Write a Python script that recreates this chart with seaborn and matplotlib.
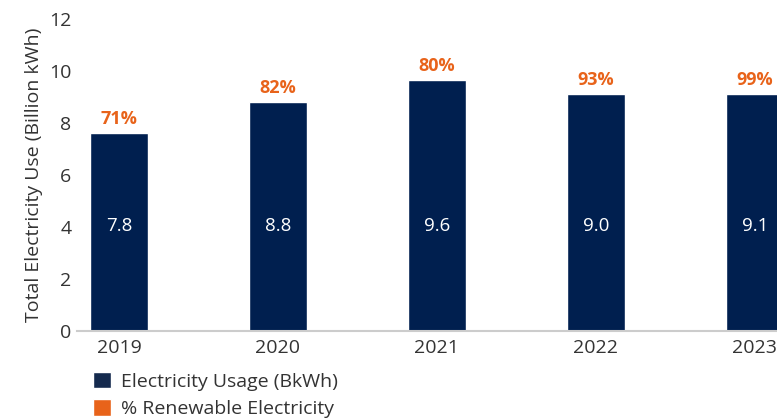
import matplotlib.pyplot as plt
import seaborn as sns
import pandas as pd
from matplotlib.patches import Patch

## data
years = ['2019', '2020', '2021', '2022', '2023']
usage = [7.6, 8.8, 9.65, 9.1, 9.1]
usage_labels = ['7.8', '8.8', '9.6', '9.0', '9.1']
renewable = ['71%', '82%', '80%', '93%', '99%']

navy = '#001f4f'
orange = '#e8631a'
grey_txt = '#333333'

df = pd.DataFrame({'year': years, 'usage': usage})

sns.set_style('white')
plt.rcParams['font.family'] = ['Open Sans', 'DejaVu Sans']

fig = plt.figure(figsize=(7.77, 4.19), dpi=100)
ax = fig.add_axes([0.099, 0.21, 0.901, 0.745])

sns.barplot(data=df, x='year', y='usage', color=navy, saturation=1, width=0.365, ax=ax)

## labels inside and above the bars
for i, bar in enumerate(ax.patches):
    x = bar.get_x() + bar.get_width() / 2
    h = bar.get_height()
    ax.text(x, 4.05, usage_labels[i], ha='center', va='center', color='white', fontsize=13.5, clip_on=False)
    ax.text(x, h + 0.2, renewable[i], ha='center', va='bottom', color=orange, fontsize=13,
            fontweight='bold', clip_on=False)

ax.set_xlim(-0.264, 4.14)
ax.set_ylim(0, 12)
ax.set_yticks(range(0, 13, 2))
ax.tick_params(axis='both', length=0, labelsize=14, labelcolor=grey_txt)
ax.tick_params(axis='x', pad=6)
ax.tick_params(axis='y', pad=4)
ax.set_xlabel('')
ax.set_ylabel('Total Electricity Use (Billion kWh)', fontsize=14, color=grey_txt, labelpad=4)

for s in ['top', 'right', 'left']:
    ax.spines[s].set_visible(False)
ax.spines['bottom'].set_color('#cccccc')
ax.spines['bottom'].set_linewidth(1.5)

handles = [Patch(facecolor='#152a4e', label='Electricity Usage (BkWh)'),
           Patch(facecolor=orange, label='% Renewable Electricity')]
fig.legend(handles=handles, loc='upper left', bbox_to_anchor=(0.1197, 0.113), frameon=False,
           fontsize=14, handlelength=0.93, handleheight=0.93, handletextpad=0.5,
           labelspacing=0.44, borderaxespad=0, borderpad=0, labelcolor=grey_txt)

plt.savefig('out.png', dpi=100)
